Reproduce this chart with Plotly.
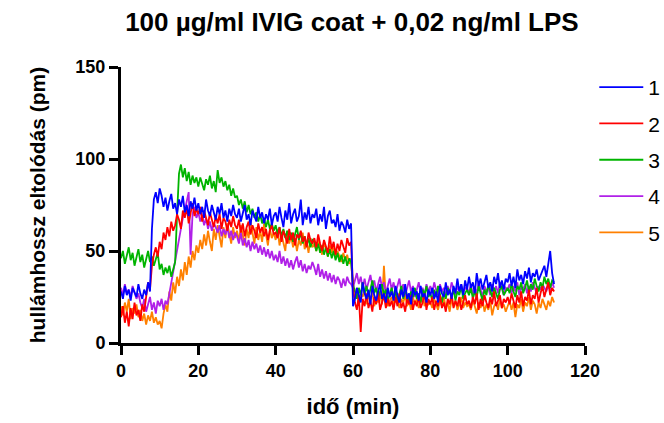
import plotly.graph_objects as go

# time axis: one sample every 0.5 min, 0 .. 112 min
time_min = [i * 0.5 for i in range(225)]

series_1 = [
    28,24,31,26,29,23,30,27,25,32,27,24,29,26,33,28,62,78,82,76,
    84,80,74,79,72,77,81,73,76,70,78,74,80,71,75,69,77,73,79,72,
    76,70,74,68,78,72,69,75,71,67,74,70,76,68,72,66,73,69,75,70,
    68,73,66,71,75,67,70,64,72,69,66,74,68,71,65,70,67,73,64,69,
    71,66,74,68,63,72,67,76,65,70,73,66,69,78,64,71,67,74,65,70,
    68,73,64,70,66,74,62,69,72,65,67,63,70,61,66,64,60,67,62,65,
    20,24,30,26,22,33,27,24,29,21,31,26,23,28,32,24,27,22,30,25,
    28,23,31,26,22,29,25,32,24,27,21,30,26,28,23,31,25,27,22,29,
    26,30,24,28,22,31,27,25,33,26,29,24,31,27,35,28,32,26,34,29,
    36,30,33,27,38,31,35,29,34,37,30,33,28,36,32,38,30,34,29,35,
    33,38,31,36,30,40,34,37,32,39,35,41,33,38,36,40,34,37,39,42,
    36,44,50,38,32,
]
series_2 = [
    14,20,11,17,9,19,13,22,15,18,12,21,17,26,33,29,42,48,52,47,
    55,51,60,56,63,58,66,61,64,70,67,62,72,68,74,65,71,76,69,73,
    70,74,66,72,68,64,71,67,63,69,65,70,62,68,66,61,67,63,69,64,
    62,67,60,65,58,63,66,59,64,61,57,65,60,63,58,62,56,61,64,59,
    60,57,63,55,61,58,54,62,56,60,53,59,57,61,55,58,52,60,56,54,
    57,52,59,54,50,56,53,49,58,51,55,48,54,50,56,52,49,57,53,55,
    30,22,18,26,6,24,20,27,19,23,17,25,21,28,18,22,26,19,24,20,
    23,18,25,20,27,19,22,17,24,21,26,18,23,20,25,19,22,27,18,24,
    21,25,18,23,20,26,19,22,17,24,21,27,19,23,20,25,18,22,26,21,
    23,19,25,21,27,18,24,20,26,22,19,25,21,28,20,23,26,19,24,22,
    25,21,27,23,19,26,22,28,20,25,23,29,21,26,24,30,22,27,31,25,
    29,33,26,30,28,
]
series_3 = [
    46,50,43,48,52,45,49,42,47,51,44,48,41,46,50,44,47,42,45,49,
    40,43,37,41,38,42,36,40,44,70,92,97,90,95,88,93,86,91,87,90,
    85,90,87,83,89,86,91,84,88,82,94,87,90,85,88,83,86,80,84,79,
    80,75,78,73,77,71,75,70,73,68,71,66,70,65,68,63,67,62,65,61,
    64,59,63,58,62,57,61,56,60,55,59,63,56,60,54,58,53,57,52,56,
    55,50,54,49,53,48,52,47,51,46,50,45,49,44,48,43,47,42,46,44,
    32,28,24,30,26,33,27,31,25,29,34,27,30,24,28,32,26,29,23,27,
    30,25,28,22,27,31,24,29,26,23,28,25,30,24,27,22,29,26,31,25,
    27,23,29,25,31,26,22,28,24,30,27,25,29,23,28,26,31,24,27,29,
    26,30,24,28,25,31,27,23,29,26,32,28,25,30,27,24,29,31,26,28,
    30,27,32,28,25,31,29,33,27,30,34,28,32,29,35,31,28,33,30,36,
    32,35,30,34,33,
]
series_4 = [
    30,26,32,27,29,25,31,28,24,27,22,19,24,17,21,25,18,22,16,23,
    20,24,18,23,21,27,32,38,45,52,58,63,68,72,78,82,48,70,74,68,
    71,66,69,64,68,62,66,61,65,63,60,64,58,62,59,63,57,61,56,60,
    58,54,60,53,57,52,56,50,55,51,54,49,53,48,52,47,51,46,50,45,
    48,44,50,43,47,42,46,41,45,40,44,47,41,45,39,43,38,42,40,44,
    41,37,43,36,40,35,39,34,38,33,37,32,36,34,30,35,31,36,33,32,
    30,34,38,32,36,30,35,29,33,37,31,34,28,32,36,30,33,27,31,35,
    29,33,27,31,35,28,32,26,30,34,28,31,25,29,33,27,30,26,32,28,
    31,27,33,29,26,32,28,30,25,31,27,33,29,26,31,28,32,27,30,29,
    28,32,26,30,27,33,29,25,31,28,30,26,32,28,31,27,33,29,26,30,
    29,32,27,31,28,33,26,30,29,32,27,31,28,33,30,27,31,29,32,30,
    28,31,29,33,30,
]
series_5 = [
    20,15,22,17,24,13,19,16,21,14,18,12,16,10,15,12,17,11,14,10,
    12,8,16,21,17,28,23,33,27,36,31,40,34,44,37,47,41,50,45,53,
    49,56,51,59,53,61,55,50,62,56,64,58,52,63,57,65,59,54,63,57,
    61,55,64,58,53,62,57,66,59,54,63,56,61,55,65,58,53,62,57,60,
    56,62,53,59,55,50,61,54,58,52,57,50,56,53,60,51,55,49,57,52,
    54,50,56,52,48,55,51,47,53,49,52,46,50,47,44,49,45,48,43,46,
    28,24,30,22,27,25,29,21,26,23,28,20,25,22,27,21,42,24,20,23,
    25,21,27,23,19,24,22,26,20,23,18,25,21,24,19,22,26,20,23,21,
    22,19,24,21,18,23,20,25,19,22,17,24,20,23,18,21,25,19,22,20,
    21,18,23,20,16,22,19,24,17,21,18,23,15,20,22,18,24,19,21,17,
    20,23,18,22,14,21,19,24,17,22,20,25,18,23,21,16,22,19,24,21,
    18,23,20,25,22,
]

names = ["1", "2", "3", "4", "5"]
values = [series_1, series_2, series_3, series_4, series_5]
colors = ["#0000FF", "#FF0000", "#00B400", "#B020E8", "#FF8000"]

x_ticks = [0, 20, 40, 60, 80, 100, 120]
y_ticks = [0, 50, 100, 150]

FONT = "Liberation Sans, Arial, sans-serif"

fig = go.Figure()
for rank, (name, vals, col) in reversed(list(enumerate(zip(names, values, colors)))):
    fig.add_trace(go.Scatter(
        x=time_min, y=vals, mode="lines", name=name, legendgroup=name,
        legendrank=rank + 1,
        line=dict(color=col, width=1.8),
    ))

axis_common = dict(
    showline=True, linewidth=3, linecolor="black",
    ticks="outside", ticklen=9, tickwidth=3, tickcolor="black",
    showgrid=False, zeroline=False,
    tickfont=dict(family=FONT, size=18, color="black", weight="bold"),
)

fig.update_layout(
    width=664, height=423,
    margin=dict(l=121, r=79, t=67, b=80, autoexpand=False),
    paper_bgcolor="white", plot_bgcolor="white",
    title=dict(text="<b>100 µg/ml IVIG coat + 0,02 ng/ml LPS</b>",
               x=0.53, xanchor="center", y=0.948, yanchor="middle",
               font=dict(family=FONT, size=26, color="black")),
    xaxis=dict(range=[0, 120], tickvals=x_ticks,
               title=dict(text="<b>idő (min)</b>", standoff=20,
                          font=dict(family=FONT, size=22, color="black")),
               **axis_common),
    yaxis=dict(range=[0, 150], tickvals=y_ticks,
               title=dict(text="<b>hullámhossz eltolódás (pm)</b>", standoff=25,
                          font=dict(family=FONT, size=21, color="black")),
               **axis_common),
    legend=dict(x=1.02, xanchor="left", y=1.0, yanchor="top",
                traceorder="grouped", tracegroupgap=6, itemwidth=44,
                font=dict(family=FONT, size=21, color="black"),
                bgcolor="rgba(0,0,0,0)"),
    showlegend=True,
)

fig.write_html("out.html")
